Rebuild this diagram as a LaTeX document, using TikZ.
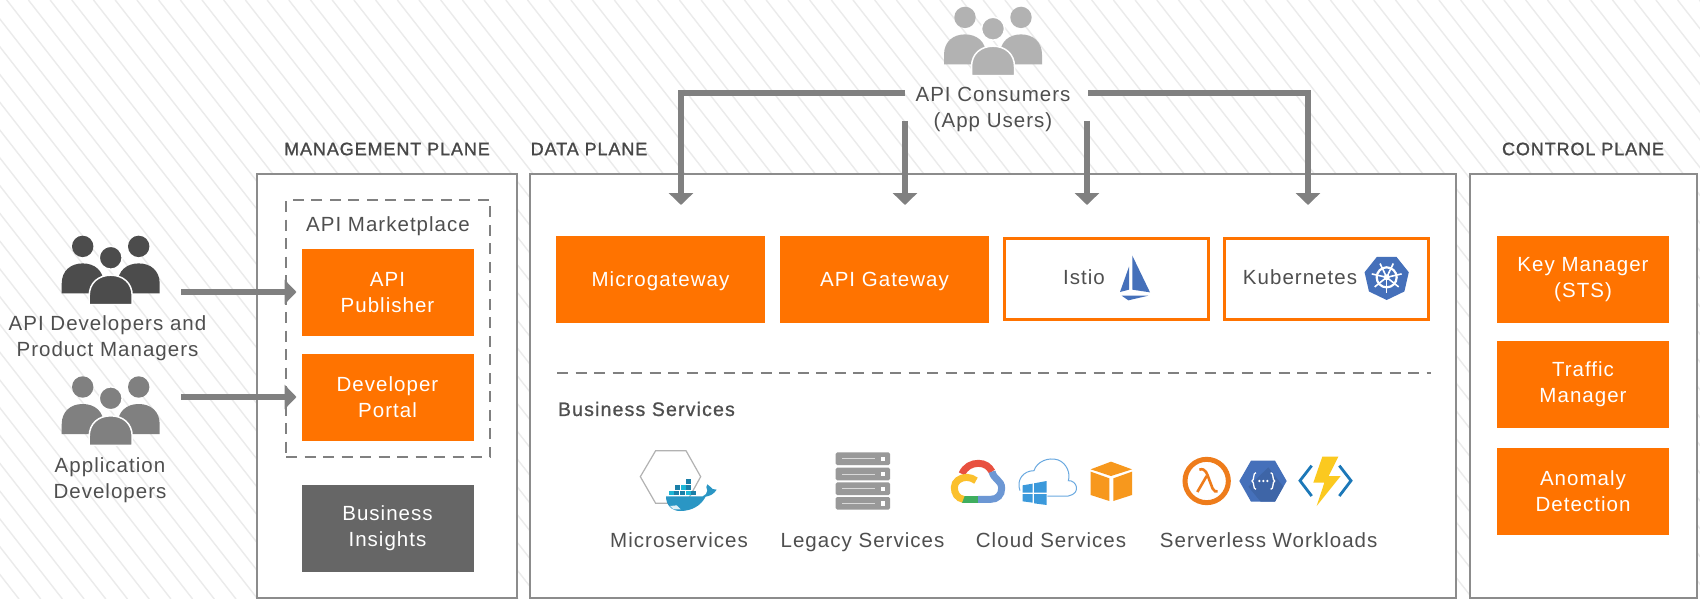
\documentclass[tikz,border=0pt]{standalone}
\usepackage{fontspec}
\setmainfont[LetterSpace=5]{Liberation Sans}
\newfontfamily\headfont[LetterSpace=5,FakeBold=1.2]{Liberation Sans}
\newfontfamily\subheadfont[LetterSpace=6,FakeBold=1.0]{Liberation Sans}
\usetikzlibrary{arrows.meta,calc}
\definecolor{orng}{HTML}{FF7300}
\definecolor{txt}{HTML}{4F4F4F}
\definecolor{conn}{HTML}{808080}
\definecolor{frame}{HTML}{8C8C8C}
\definecolor{hatch}{HTML}{EBEBEB}
\definecolor{icblue}{HTML}{4570BA}
\definecolor{whale}{HTML}{2A96C4}
\definecolor{whaled}{HTML}{1B7FA8}
\tikzset{
  lab/.style={inner sep=0pt,outer sep=0pt,text=txt,align=center,font=\fontsize{20.5}{26}\selectfont},
  head/.style={inner sep=0pt,outer sep=0pt,text=txt!90!black,font=\headfont\fontsize{18}{22}\selectfont},
  plane/.style={draw=frame,line width=1.8pt,fill=white,inner sep=0pt,outer sep=0pt},
  obox/.style={fill=orng,text=white,inner sep=0pt,outer sep=0pt,align=center,font=\fontsize{20.5}{26}\selectfont},
  oline/.style={obox,text height=16pt,text depth=3pt},
  gbox/.style={obox,fill=black!60},
  wbox/.style={draw=orng,line width=3pt,fill=white,inner sep=0pt,outer sep=0pt},
  dash box/.style={draw=conn,line width=1.5pt,dash pattern=on 11pt off 7.5pt},
  flow/.style={draw=conn,line width=6.8pt,-{Triangle[width=24pt,length=12pt]}},
  z/.style 2 args={shift={(#1pt,-#2pt)},x=0.33333pt,y=-0.33333pt},
}
\newcommand{\people}[3]{%
 \begin{scope}[shift={(#1pt,-#2pt)}]
  \fill[#3] (-28,-29.3) circle (10.7) (28,-29.3) circle (10.7);
  \fill[#3] (-49,17.7) -- (-49,8) .. controls (-49,-5) and (-40,-12.3) .. (-28,-12.3) .. controls (-16,-12.3) and (-7,-5) .. (-7,8) -- (-7,17.7) -- cycle;
  \fill[#3] (49,17.7) -- (49,8) .. controls (49,-5) and (40,-12.3) .. (28,-12.3) .. controls (16,-12.3) and (7,-5) .. (7,8) -- (7,17.7) -- cycle;
  \filldraw[fill=#3,draw=white,line width=1.5pt] (0,-18) circle (11.5);
  \filldraw[fill=#3,draw=white,line width=1.5pt] (-21.5,29) -- (-21.5,20) .. controls (-21.5,7) and (-12,-0.5) .. (0,-0.5) .. controls (12,-0.5) and (21.5,7) .. (21.5,20) -- (21.5,29) -- cycle;
 \end{scope}}
\begin{document}
\begin{tikzpicture}[x=1pt,y=-1pt]
\useasboundingbox (0,0) rectangle (1700,599);
\fill[white] (0,0) rectangle (1700,599);
\begin{scope}
 \clip (0,0) rectangle (1700,599);
 \foreach \h in {-470.7,-449,...,1700}
   \draw[hatch,line width=1.4pt] (\h,0) -- ({\h+468},599);
\end{scope}

% planes
\node[plane,minimum width=260pt,minimum height=424pt] (mgmt) at (387,386) {};
\node[plane,minimum width=926pt,minimum height=424pt] (data) at (993,386) {};
\node[plane,minimum width=227pt,minimum height=424pt] (ctrl) at (1583.5,386) {};
\node[head] (lmgmt) at (387,149) {MANAGEMENT PLANE};
\node[head] (ldata) at (589,149) {DATA PLANE};
\node[head] (lctrl) at (1583,149) {CONTROL PLANE};

% management
\node[dash box,minimum width=204pt,minimum height=257pt,inner sep=0pt] (market) at (388,328.5) {};
\node[lab] (lmarket) at (388,226) {API Marketplace};
\node[obox,minimum width=172pt,minimum height=87pt] (pub) at (387.5,292.5) {API\\Publisher};
\node[obox,minimum width=172pt,minimum height=87pt] (portal) at (387.5,397.5) {Developer\\Portal};
\node[gbox,minimum width=172pt,minimum height=87pt] (ins) at (387.5,528.5) {Business\\Insights};

% people left
\people{110.7}{275.7}{black!70}
\people{110.7}{416.3}{conn}
\node[lab] (ldev) at (107.5,338) {API Developers and\\Product Managers};
\node[lab] (lapp) at (110,480) {Application\\Developers};
\coordinate (sa) at (181,292);
\coordinate (sb) at (181,397);
\draw[flow] (sa) -- ([xshift=-5pt]sa -| pub.west);
\draw[flow] (sb) -- ([xshift=-5pt]sb -| portal.west);

% consumers
\people{993}{46.7}{black!30}
\node[lab] (cons) at (993,109) {API Consumers\\(App Users)};
\coordinate (c1) at (905,93); \coordinate (c2) at (1088,93);
\coordinate (c3) at (905,121); \coordinate (c4) at (1087,121);
\coordinate (t1) at (681,205); \coordinate (t2) at (905,205);
\coordinate (t3) at (1087,205); \coordinate (t4) at (1308,205);
\draw[flow] (c1) -| (t1);
\draw[flow] (c3) -- (t2);
\draw[flow] (c4) -- (t3);
\draw[flow] (c2) -| (t4);

% data plane top row
\node[oline,minimum width=209pt,minimum height=87pt] (mg) at (660.5,279.5) {Microgateway};
\node[oline,minimum width=209pt,minimum height=87pt] (gw) at (884.5,279.5) {API Gateway};
\node[wbox,minimum width=204pt,minimum height=81pt] (istio) at (1106.5,278.5) {};
\node[wbox,minimum width=204pt,minimum height=81pt] (k8s) at (1326.5,278.5) {};
\node[lab] (listio) at (1084,277.5) {Istio};
\node[lab] (lk8s) at (1300,277.5) {Kubernetes};

% istio sail
\begin{scope}[z={980}{220}]
 \fill[icblue] (457,107) -- (510,217) -- (457,209) -- cycle;
 \fill[icblue] (447,140) -- (447,209) -- (420,216) -- cycle;
 \fill[icblue] (425,227) -- (505,227) -- (445,241) -- cycle;
\end{scope}
% kubernetes
\begin{scope}[z={980}{220}]
 \fill[icblue]
   ($(1220,172)+(90:68)$) \foreach \a in {141.4,192.9,244.3,295.7,347.1,38.6} { -- ($(1220,172)+(\a:68)$) } -- cycle;
 \draw[white,line width=2.2pt] (1220,172) circle (30);
 \foreach \a in {90,141.4,192.9,244.3,295.7,347.1,38.6}
   \draw[white,line width=1.6pt] (1220,172) -- ($(1220,172)+(\a:46)$);
 \fill[white] (1220,172) circle (9);
\end{scope}

% divider
\coordinate (da) at (557,373); \coordinate (db) at (1431,373);
\draw[dash box] (da) -- (db);
\node[head,anchor=west,font=\subheadfont\fontsize{19.5}{22}\selectfont,text=txt] (lbs) at (558,409) {Business Services};

% docker
\begin{scope}[z={560}{420}]
 \draw[black!30,line width=1.2pt] (241,170) -- (287,92) -- (378,92) -- (422,170) -- (378,250) -- (287,250) -- cycle;
 \fill[whale] (318,229) -- (428,229) .. controls (436,226) and (441,220) .. (442,212) .. controls (438,204) and (438,198) .. (442,193) .. controls (450,198) and (454,204) .. (458,207) -- (470,209) .. controls (462,222) and (450,228) .. (437,230) .. controls (422,258) and (395,273) .. (360,273) .. controls (335,273) and (318,255) .. (318,229) -- cycle;
 \fill[white!85!whale] (330,258) -- (350,256) -- (362,268) -- (340,268) -- cycle;
 \foreach \x/\y in {378/178,345/195,362/195,379/195,326/212,343/212,360/212,377/212,394/212}
   \fill[whaled] (\x,\y) rectangle ++(15,14);
 \foreach \x/\y in {362/195,326/212,377/212}
   \fill[whale!70!cyan] (\x,\y) rectangle ++(15,14);
\end{scope}

% server rack
\begin{scope}[z={560}{420}]
 \foreach \y in {97,143,187,231} {
   \fill[black!40,rounded corners=1.5pt] (827,\y) rectangle (990,\y+38);
   \draw[black!15,line width=1pt] (846,\y+19) -- (945,\y+19);
   \fill[white] (962,\y+13) rectangle (975,\y+26);
 }
\end{scope}

% cloud icons
\begin{scope}[z={920}{430}]
 % google cloud
 \definecolor{gr}{HTML}{E8503F}
 \definecolor{gb}{HTML}{6C97D4}
 \definecolor{gg}{HTML}{3FAE5F}
 \definecolor{gy}{HTML}{FBC02D}
 \draw[line width=7pt,color=gr] (126,132) .. controls (135,110) and (155,100) .. (175,100) .. controls (195,100) and (208,110) .. (216,125);
 \draw[line width=7pt,color=gb] (216,125) .. controls (222,150) and (245,150) .. (245,175) .. controls (245,195) and (232,208) .. (212,208) -- (174,208);
 \draw[line width=7pt,color=gg] (174,208) -- (125,208);
 \draw[line width=7pt,color=gy] (130,208) .. controls (112,205) and (103,190) .. (103,172) .. controls (103,155) and (120,142) .. (140,142) .. controls (150,142) and (160,146) .. (168,152);
 % azure cloud
 \draw[cyan!65!blue!60!white,line width=1pt] (300,182) .. controls (288,150) and (310,122) .. (342,122) .. controls (350,95) and (385,80) .. (415,90) .. controls (440,100) and (452,130) .. (445,152) .. controls (470,150) and (485,190) .. (445,198) -- (382,198);
 \fill[cyan!70!blue!80!white] (308,166)--(338,161)--(338,188)--(308,188)--cycle;
 \fill[cyan!70!blue!80!white] (342,160)--(380,153)--(380,188)--(342,188)--cycle;
 \fill[cyan!70!blue!80!white] (308,192)--(338,192)--(338,218)--(308,214)--cycle;
 \fill[cyan!70!blue!80!white] (342,192)--(380,192)--(380,225)--(342,220)--cycle;
 % aws cube
 \definecolor{aws}{HTML}{F7981D}
 \fill[aws] (512,118) -- (573,95) -- (636,118) -- (573,138) -- cycle;
 \fill[aws] (512,125) -- (568,145) -- (568,213) -- (512,195) -- cycle;
 \fill[aws] (580,145) -- (636,125) -- (636,195) -- (580,213) -- cycle;
 % lambda
 \definecolor{lamb}{HTML}{EE7C1B}
 \draw[lamb,line width=5pt] (860,153) circle (65);
 \draw[lamb,line width=2.6pt] (838,119) .. controls (858,112) and (862,135) .. (868,150) -- (878,176) .. controls (882,184) and (888,186) .. (893,184);
 \draw[lamb,line width=2.6pt] (860,138) -- (832,186);
 % cloud functions
 \fill[icblue] (958,153) -- (993,92) -- (1065,92) -- (1100,153) -- (1065,215) -- (993,215) -- cycle;
 \fill[icblue!90!black] (1045,112) -- (1090,170) -- (1065,215) -- (1022,215) -- (985,170) -- cycle;
 \draw[white,line width=1.3pt] (1008,128) .. controls (998,128) and (1004,150) .. (996,153) .. controls (1004,156) and (998,178) .. (1008,178);
 \draw[white,line width=1.3pt] (1052,128) .. controls (1062,128) and (1056,150) .. (1064,153) .. controls (1056,156) and (1062,178) .. (1052,178);
 \foreach \x in {1018,1030,1042} \fill[white] (\x,153) circle (4);
 % azure functions
 \definecolor{azf}{HTML}{1C78B8}
 \definecolor{bolt}{HTML}{FBC91F}
 \draw[azf,line width=2.8pt] (1175,107) -- (1140,152) -- (1175,198);
 \draw[azf,line width=2.8pt] (1258,107) -- (1293,152) -- (1258,198);
 \fill[bolt] (1207,80) -- (1255,80) -- (1226,138) -- (1262,138) -- (1190,228) -- (1213,158) -- (1180,158) -- cycle;
\end{scope}

\node[lab,anchor=base] (lms) at (679,547.5) {Microservices};
\node[lab,anchor=base] (lls) at (862.5,547.5) {Legacy Services};
\node[lab,anchor=base] (lcs) at (1051,547.5) {Cloud Services};
\node[lab,anchor=base] (lsw) at (1268.7,547.5) {Serverless Workloads};

% control plane
\node[obox,minimum width=172pt,minimum height=87pt] (km) at (1583,279.5) {Key Manager\\(STS)};
\node[obox,minimum width=172pt,minimum height=87pt] (tm) at (1583,384.5) {Traffic\\Manager};
\node[obox,minimum width=172pt,minimum height=87pt] (ad) at (1583,491.5) {Anomaly\\Detection};
\end{tikzpicture}
\end{document}
